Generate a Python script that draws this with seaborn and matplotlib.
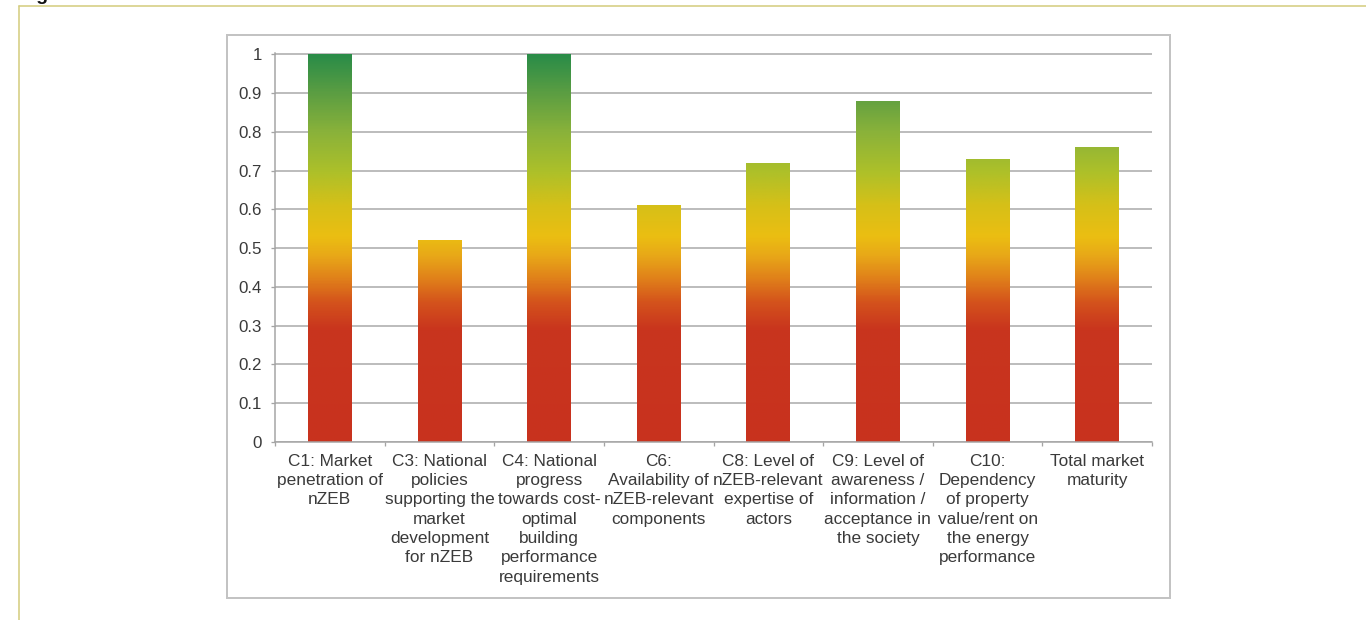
import numpy as np
import pandas as pd
import matplotlib
matplotlib.use("Agg")
import matplotlib.pyplot as plt
from matplotlib.colors import LinearSegmentedColormap, Normalize
from matplotlib.patches import Rectangle
from matplotlib.lines import Line2D
from matplotlib.ticker import FixedLocator
import seaborn as sns

# Market maturity criteria and their scores
criteria = [
    "C1: Market\npenetration of\nnZEB",
    "C3: National\npolicies\nsupporting the\nmarket\ndevelopment\nfor nZEB",
    "C4: National\nprogress\ntowards cost-\noptimal\nbuilding\nperformance\nrequirements",
    "C6:\nAvailability of\nnZEB-relevant\ncomponents",
    "C8: Level of\nnZEB-relevant\nexpertise of\nactors",
    "C9: Level of\nawareness /\ninformation /\nacceptance in\nthe society",
    "C10:\nDependency\nof property\nvalue/rent on\nthe energy\nperformance",
    "Total market\nmaturity",
]
scores = [1.0, 0.52, 1.0, 0.61, 0.72, 0.88, 0.73, 0.76]

y_ticks = [0, 0.1, 0.2, 0.3, 0.4, 0.5, 0.6, 0.7, 0.8, 0.9, 1.0]
y_tick_labels = ["0", "0.1", "0.2", "0.3", "0.4", "0.5", "0.6", "0.7", "0.8", "0.9", "1"]

sns.set_theme(style="white")
plt.rcParams["font.family"] = ["Liberation Sans", "DejaVu Sans"]

W, H = 1366, 620
PX = 0.72  # points per pixel at 100 dpi
fig = plt.figure(figsize=(W / 100, H / 100), dpi=100)
fig.patch.set_facecolor("white")

ax = fig.add_axes([275 / W, (H - 442) / H, (1152 - 275) / W, (442 - 53) / H])

df = pd.DataFrame({"criterion": criteria, "score": scores})
sns.barplot(data=df, x="criterion", y="score", ax=ax, width=0.4,
            color="white", saturation=1, edgecolor="none", errorbar=None)

# red -> orange -> yellow -> green ramp by score level
ramp = LinearSegmentedColormap.from_list("maturity", [
    (0.00, "#c8321e"),
    (0.29, "#c9351e"),
    (0.36, "#d4531c"),
    (0.42, "#e0801a"),
    (0.48, "#e8a818"),
    (0.53, "#ebbe12"),
    (0.61, "#d6c018"),
    (0.70, "#acc02a"),
    (0.80, "#8ab23a"),
    (0.90, "#5c9e42"),
    (1.00, "#2a8c48"),
])

for bar in list(ax.patches):
    x0, w, h = bar.get_x(), bar.get_width(), bar.get_height()
    bar.set_facecolor("none")
    levels = np.linspace(0, h, 400).reshape(-1, 1)
    img = ax.imshow(levels, cmap=ramp, norm=Normalize(0, 1), origin="lower",
                    extent=[x0, x0 + w, 0, h], aspect="auto",
                    interpolation="bilinear", zorder=2)
    img.set_clip_path(bar)

ax.set_xlim(-0.5, len(criteria) - 0.5)
ax.set_ylim(0, 1.003)
ax.set_aspect("auto")

ax.set_xlabel("")
ax.set_ylabel("")
ax.set_yticks(y_ticks)
ax.set_yticklabels(y_tick_labels)
ax.xaxis.set_minor_locator(FixedLocator(np.arange(-0.5, len(criteria), 1.0)))

text_col = "#3a3a3a"
axis_col = "#a4a4a4"
ax.tick_params(axis="x", which="major", length=0, pad=8.5, labelsize=12.4,
               labelcolor=text_col)
ax.tick_params(axis="x", which="minor", length=4 * PX, width=1.3 * PX,
               color=axis_col, direction="out", bottom=True)
ax.tick_params(axis="y", length=4 * PX, width=1.3 * PX, color=axis_col,
               direction="out", left=True, pad=6.5, labelsize=12.2,
               labelcolor=text_col)
for lbl in ax.get_xticklabels():
    lbl.set_ha("center")
    lbl.set_va("top")
    lbl.set_multialignment("center")
    lbl.set_linespacing(1.36)

ax.yaxis.grid(True, color="#a8a8a8", linewidth=1.5 * PX)
ax.xaxis.grid(False)
ax.set_axisbelow(True)
for side in ("top", "right"):
    ax.spines[side].set_visible(False)
for side in ("left", "bottom"):
    ax.spines[side].set_color(axis_col)
    ax.spines[side].set_linewidth(1.5 * PX)
ax.set_facecolor("none")

# chart border
fig.add_artist(Rectangle((227 / W, (H - 598) / H), (1170 - 227) / W, (598 - 35) / H,
                         transform=fig.transFigure, fill=False,
                         edgecolor="#c3c3c3", linewidth=2.0 * PX))

# page frame and caption heading
frame_col = "#d5ce82"
fig.add_artist(Line2D([18.5 / W, 1.0], [(H - 5.5) / H] * 2, transform=fig.transFigure,
                      color=frame_col, linewidth=1.6 * PX))
fig.add_artist(Line2D([18.5 / W] * 2, [0.0, (H - 5.5) / H], transform=fig.transFigure,
                      color=frame_col, linewidth=1.6 * PX))
fig.text(20 / W, (H + 0.5) / H, "Figure", fontsize=14, fontweight="bold",
         color="#111111", va="baseline", ha="left")

fig.savefig("out.png", dpi=100, facecolor="white")
